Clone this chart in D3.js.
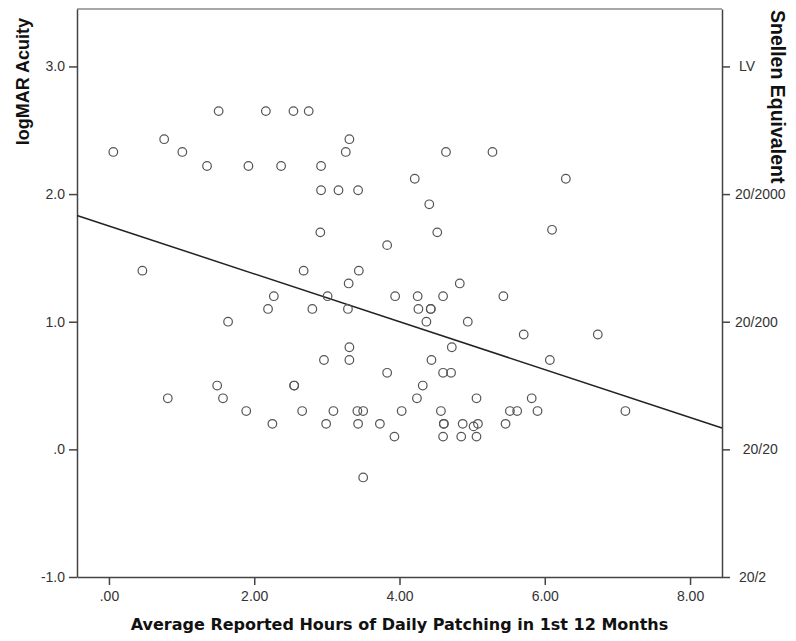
<!DOCTYPE html>
<html>
<head>
<meta charset="utf-8">
<script src="https://cdn.jsdelivr.net/npm/d3@7"></script>
<style>
  body { margin: 0; background: #fff; }
  svg text { font-family: "Liberation Sans", Arial, sans-serif; }
</style>
</head>
<body>
<svg id="chart" width="796" height="641"></svg>
<script>
// hours of patching vs logMAR acuity
const hours = [
  1.51, 2.16, 2.54, 2.75, 0.76, 3.31, 0.06, 1.01, 3.26, 4.64, 5.28,
  1.35, 1.92, 2.37, 2.92, 4.21, 6.29, 2.92, 3.16, 3.43, 4.41, 6.10,
  2.91, 4.52, 3.83, 0.46, 2.68, 3.44, 3.30, 4.83, 2.27, 3.01, 3.94,
  4.25, 4.60, 5.43, 2.19, 2.80, 3.29, 4.26, 4.43, 4.43, 1.64, 4.37,
  4.94, 5.71, 6.73, 3.31, 4.72, 2.96, 3.31, 4.44, 6.07, 3.83, 4.60,
  4.71, 1.49, 2.55, 2.55, 4.32, 0.81, 1.57, 4.24, 5.06, 5.82, 1.89,
  2.66, 3.09, 3.42, 3.50, 4.03, 4.57, 5.52, 5.62, 5.90, 7.11, 2.25,
  2.99, 3.43, 3.73, 4.61, 4.61, 4.87, 5.08, 5.46, 5.02, 3.93, 4.60,
  4.85, 5.06, 3.50
];
const logmar = [
  2.65, 2.65, 2.65, 2.65, 2.43, 2.43, 2.33, 2.33, 2.33, 2.33, 2.33,
  2.22, 2.22, 2.22, 2.22, 2.12, 2.12, 2.03, 2.03, 2.03, 1.92, 1.72,
  1.70, 1.70, 1.60, 1.40, 1.40, 1.40, 1.30, 1.30, 1.20, 1.20, 1.20,
  1.20, 1.20, 1.20, 1.10, 1.10, 1.10, 1.10, 1.10, 1.10, 1.00, 1.00,
  1.00, 0.90, 0.90, 0.80, 0.80, 0.70, 0.70, 0.70, 0.70, 0.60, 0.60,
  0.60, 0.50, 0.50, 0.50, 0.50, 0.40, 0.40, 0.40, 0.40, 0.40, 0.30,
  0.30, 0.30, 0.30, 0.30, 0.30, 0.30, 0.30, 0.30, 0.30, 0.30, 0.20,
  0.20, 0.20, 0.20, 0.20, 0.20, 0.20, 0.20, 0.20, 0.18, 0.10, 0.10,
  0.10, 0.10, -0.22
];

// linear fit line as shown in the figure
const fitIntercept = 1.75;
const fitSlope = -0.1875;

const xTicks = [0, 2, 4, 6, 8];
const xTickLabels = [".00", "2.00", "4.00", "6.00", "8.00"];
const yTicks = [-1, 0, 1, 2, 3];
const yTickLabels = ["-1.0", ".0", "1.0", "2.0", "3.0"];
const snellenLabels = ["\u00a020/2", "\u00a0\u00a020/20", "20/200", "20/2000", "\u00a0LV"];

const svg = d3.select("#chart");
const margin = {top: 9, right: 74, bottom: 64, left: 77};
const width = 796 - margin.left - margin.right;
const height = 641 - margin.top - margin.bottom;

const x = d3.scaleLinear().domain([-0.44, 8.44]).range([0, width]);
const y = d3.scaleLinear().domain([-1, 3.45]).range([height, 0]);

const g = svg.append("g").attr("transform", `translate(${margin.left},${margin.top})`);

// frame top
g.append("line")
  .attr("x1", 0).attr("x2", width).attr("y1", 0).attr("y2", 0)
  .attr("stroke", "#8a8a8a").attr("stroke-width", 1.5);

const xAxis = g.append("g")
  .attr("transform", `translate(0,${height})`)
  .call(d3.axisBottom(x).tickValues(xTicks).tickSize(8).tickPadding(6)
    .tickFormat((d, i) => xTickLabels[i]).tickSizeOuter(0));

const yAxis = g.append("g")
  .call(d3.axisLeft(y).tickValues(yTicks).tickSize(8).tickPadding(4)
    .tickFormat((d, i) => yTickLabels[i]).tickSizeOuter(0));

const rAxis = g.append("g")
  .attr("transform", `translate(${width},0)`)
  .call(d3.axisRight(y).tickValues(yTicks).tickSize(8).tickPadding(5)
    .tickFormat((d, i) => snellenLabels[i]).tickSizeOuter(0));

[xAxis, yAxis, rAxis].forEach(a => {
  a.select(".domain").attr("stroke", "#444").attr("stroke-width", 1.5);
  a.selectAll(".tick line").attr("stroke", "#444").attr("stroke-width", 1.5);
  a.selectAll(".tick text")
    .attr("fill", "#333")
    .style("font-size", "14px")
    .style("font-family", "'Liberation Sans', Arial, sans-serif");
});
rAxis.selectAll(".tick text").style("white-space", "pre");

// fit line
const fx = x.domain();
g.append("line")
  .attr("x1", x(fx[0])).attr("y1", y(fitIntercept + fitSlope * fx[0]))
  .attr("x2", x(fx[1])).attr("y2", y(fitIntercept + fitSlope * fx[1]))
  .attr("stroke", "#222").attr("stroke-width", 1.5);

const pts = hours.map((h, i) => ({h: h, v: logmar[i]}));
g.selectAll("circle.pt").data(pts)
  .enter()
  .append("circle")
  .attr("class", "pt")
  .attr("cx", d => x(d.h))
  .attr("cy", d => y(d.v))
  .attr("r", 4.3)
  .attr("fill", "none")
  .attr("stroke", "#555")
  .attr("stroke-width", 1.2);

// axis titles
svg.append("text")
  .attr("x", margin.left + width / 2).attr("y", 630)
  .attr("text-anchor", "middle")
  .style("font-family", "'DejaVu Sans', Verdana, sans-serif")
  .style("font-weight", "bold").style("font-size", "16px")
  .attr("fill", "#111")
  .text("Average Reported Hours of Daily Patching in 1st 12 Months");

svg.append("text")
  .attr("transform", "translate(29,18) rotate(-90)")
  .attr("text-anchor", "end")
  .style("font-weight", "bold").style("font-size", "18px")
  .attr("fill", "#111")
  .text("logMAR Acuity");

svg.append("text")
  .attr("transform", "translate(771,10) rotate(90)")
  .attr("text-anchor", "start")
  .style("font-weight", "bold").style("font-size", "19.5px")
  .attr("fill", "#111")
  .text("Snellen Equivalent");
</script>
</body>
</html>
